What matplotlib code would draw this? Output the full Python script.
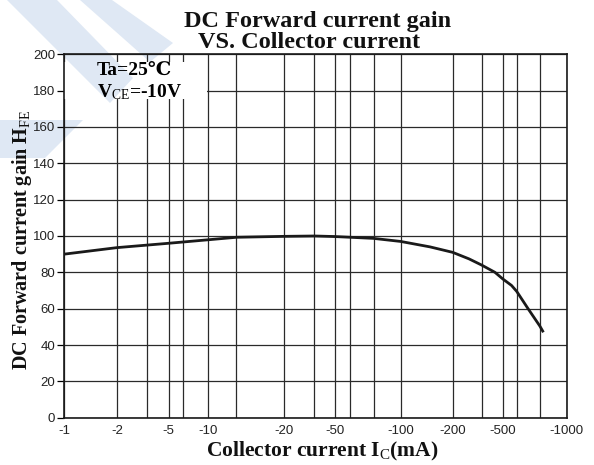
import numpy as np
import matplotlib
matplotlib.use("Agg")
import matplotlib.pyplot as plt
from matplotlib.patches import Polygon, Rectangle
from matplotlib.ticker import FixedLocator, FixedFormatter, NullFormatter

# ---------------- data ----------------
ic_ma = [-1, -2, -5, -10, -13, -20, -35, -50, -75, -100, -148, -200, -270,
         -340, -434, -500, -550, -582, -658, -748, -777]
hfe = [90, 93.6, 96, 97.9, 99.3, 99.8, 100, 99.7, 98.7, 97, 94, 91, 87.4,
       84, 80, 76.4, 72.8, 69.5, 60, 50.4, 47]

x_ticks = [-1, -2, -5, -10, -20, -50, -100, -200, -500, -1000]
x_tick_labels = ['-1', '-2', '-5', '-10', '-20', '-50', '-100', '-200', '-500', '-1000']
x_minor_grid = [-3.4, -6.5, -13, -34.5, -59, -75.5, -340, -585, -745]
y_ticks = [0, 20, 40, 60, 80, 100, 120, 140, 160, 180, 200]

title_lines = ['DC Forward current gain', 'VS. Collector current']
x_label = r'Collector current I$_{\mathrm{C}}$(mA)'
y_label = r'DC Forward current gain H$_{\mathrm{FE}}$'
cond_1 = 'Ta=25℃'
cond_2 = r'V$_{\mathrm{CE}}$=-10V'

# ---------------- fonts ----------------
plt.rcParams['mathtext.fontset'] = 'custom'
plt.rcParams['mathtext.rm'] = 'Liberation Serif'
plt.rcParams['mathtext.bf'] = 'Liberation Serif:bold'
plt.rcParams['mathtext.it'] = 'Liberation Serif:italic'
serif_bold = dict(family=['Liberation Serif', 'DejaVu Serif'], weight='bold')

# ---------------- hand-drawn (quasi-log) x scale of the datasheet ----------------
anchor_log = np.log10(np.abs(np.array(x_ticks, dtype=float)))
anchor_frac = np.array([0.0, 0.1054, 0.2083, 0.2859, 0.4370, 0.5385,
                        0.6698, 0.7732, 0.8727, 1.0])


def fwd(x):
    # increasing in x: -1000 -> -1, -1 -> 0
    x = np.asarray(x, dtype=float)
    m = np.log10(np.clip(np.abs(x), 1e-6, None))
    return -np.interp(m, anchor_log, anchor_frac)


def inv(y):
    y = np.asarray(y, dtype=float)
    return -10 ** np.interp(-y, anchor_frac, anchor_log)


W, H = 594, 465
fig = plt.figure(figsize=(W / 100, H / 100), dpi=100)
fig.patch.set_facecolor('white')

ax_l, ax_r, ax_t, ax_b = 64, 566.7, 54.3, 417.7
ax = fig.add_axes([ax_l / W, 1 - ax_b / H, (ax_r - ax_l) / W, (ax_b - ax_t) / H])
ax.patch.set_alpha(0)

ax.set_xscale('function', functions=(fwd, inv))
ax.set_xlim(-1, -1000)
ax.set_ylim(0, 200)

ax.xaxis.set_major_locator(FixedLocator(x_ticks))
ax.xaxis.set_major_formatter(FixedFormatter(x_tick_labels))
ax.xaxis.set_minor_locator(FixedLocator(x_minor_grid))
ax.xaxis.set_minor_formatter(NullFormatter())
ax.yaxis.set_major_locator(FixedLocator(y_ticks))
ax.yaxis.set_minor_locator(FixedLocator([]))

ax.set_axisbelow(True)
grid_kw = dict(color='#2a2a2a', linewidth=0.9)
ax.grid(True, which='both', axis='x', **grid_kw)
ax.grid(True, which='major', axis='y', **grid_kw)

ax.tick_params(axis='x', which='both', length=0, pad=5, labelsize=9.5,
               labelcolor='#222222')
ax.tick_params(axis='y', which='major', length=5, width=0.9, pad=1.5,
               labelsize=9.5, labelcolor='#222222', direction='out')
for lab in ax.get_xticklabels() + ax.get_yticklabels():
    lab.set_fontfamily(['Liberation Sans', 'DejaVu Sans'])

for s in ax.spines.values():
    s.set_linewidth(1.2)
    s.set_color('#1a1a1a')

# curve
ax.plot(ic_ma, hfe, color='#1a1a1a', linewidth=2.0, solid_capstyle='butt',
        solid_joinstyle='round', zorder=3)

# ---------------- watermark (faint blue bands) ----------------
wm_color = '#dfe8f4'
bands_px = [
    [(7, 0), (57, 0), (133, 78), (110, 103)],
    [(80, 0), (112, 0), (173, 43), (150, 62)],
    [(0, 120), (83, 120), (45, 158), (0, 158)],
]


def to_fig(pts):
    return [(x / W, 1 - y / H) for x, y in pts]


for b in bands_px:
    fig.patches.append(Polygon(to_fig(b), closed=True, transform=fig.transFigure,
                               facecolor=wm_color, edgecolor='none', zorder=-1))

# white box behind the conditions text (hides grid there)
rect = Rectangle((0.0, 0.877), 0.284, 0.102, transform=ax.transAxes,
                 facecolor='white', edgecolor='none', zorder=1.5)
ax.add_patch(rect)
for b in bands_px:
    p = Polygon(to_fig(b), closed=True, transform=fig.transFigure,
                facecolor=wm_color, edgecolor='none', zorder=1.6)
    ax.add_patch(p)
    p.set_clip_path(rect)

ax.text(0.066, 0.943, cond_1, transform=ax.transAxes, fontsize=14,
        ha='left', va='baseline', zorder=4, **serif_bold)
ax.text(0.066, 0.8825, cond_2, transform=ax.transAxes, fontsize=14,
        ha='left', va='baseline', zorder=4, **serif_bold)

# ---------------- titles / labels ----------------
fig.text(318 / W, 1 - 27.5 / H, title_lines[0], fontsize=17.5, ha='center',
         va='baseline', color='#111111', **serif_bold)
fig.text(309 / W, 1 - 48.5 / H, title_lines[1], fontsize=17.5, ha='center',
         va='baseline', color='#111111', **serif_bold)
fig.text(322 / W, 1 - 456 / H, x_label, fontsize=15.5, ha='center',
         va='baseline', color='#111111', **serif_bold)
fig.text(22.5 / W, 1 - 240 / H, y_label, fontsize=14.5, ha='center',
         va='center', rotation=90, color='#111111', **serif_bold)

fig.savefig('out.png', dpi=100, facecolor='white')
